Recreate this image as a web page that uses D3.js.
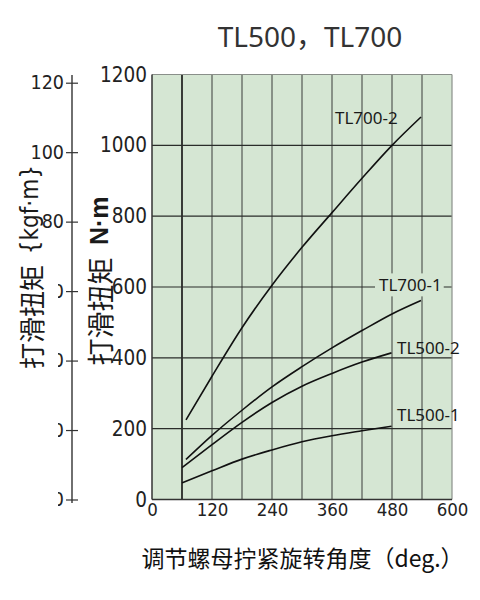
<!DOCTYPE html>
<html>
<head>
<meta charset="utf-8">
<script src="https://cdn.jsdelivr.net/npm/d3@7/dist/d3.min.js"></script>
<style>
  html, body { margin: 0; padding: 0; background: #fff; }
  svg { display: block; }
  .num { font-family: "Liberation Sans Narrow", "DejaVu Sans Condensed", "Liberation Sans", sans-serif; fill: #222; }
</style>
</head>
<body>
<svg id="chart" width="480" height="600"></svg>
<script>
// ---- data ----
const chartTitle = "TL500，TL700";
const xTitle = "调节螺母拧紧旋转角度（deg.）";
const yTitleNm = ["打滑扭矩", "N·m"];
const yTitleKgf = ["打滑扭矩", "{kgf·m}"];

const degTicks = [0, 120, 240, 360, 480, 600];
const degGrid = [60, 120, 180, 240, 300, 360, 420, 480, 540];
const nmTicks = [0, 200, 400, 600, 800, 1000, 1200];
const kgfTicks = [0, 20, 40, 60, 80, 100, 120];
const kgfVisible = [80, 100, 120];   // lower labels are cut off in the source

const seriesNames = ["TL700-2", "TL700-1", "TL500-2", "TL500-1"];
const tl700_2_deg = [68, 120, 180, 240, 300, 360, 420, 480, 538];
const tl700_2_nm  = [225, 348, 485, 605, 712, 810, 907, 1000, 1080];
const tl700_1_deg = [68, 120, 180, 240, 300, 360, 420, 480, 538];
const tl700_1_nm  = [113, 181, 252, 318, 375, 428, 477, 524, 562];
const tl500_2_deg = [60, 120, 180, 240, 300, 360, 420, 479];
const tl500_2_nm  = [90, 155, 218, 274, 320, 356, 388, 414];
const tl500_1_deg = [60, 120, 180, 240, 300, 360, 420, 479];
const tl500_1_nm  = [47, 81, 114, 140, 163, 180, 194, 207];

// label anchors in data units (deg, N·m)
const labelDeg = [366, 454, 490, 490];
const labelNm  = [1080, 606, 428, 239];

const NM_PER_KGF = 9.807;

// ---- layout ----
const svg = d3.select("#chart");
const plot = { left: 152, right: 452, top: 74.5, bottom: 499.5 };
const x = d3.scaleLinear().domain([0, 600]).range([plot.left, plot.right]);
const y = d3.scaleLinear().domain([0, 1200]).range([plot.bottom, plot.top]);
const yK = d3.scaleLinear().domain([0, 1200 / NM_PER_KGF]).range([plot.bottom, plot.top]);

// background
svg.append("rect")
  .attr("x", plot.left).attr("y", plot.top)
  .attr("width", plot.right - plot.left).attr("height", plot.bottom - plot.top)
  .attr("fill", "#d5e6d3");

// grid
const grid = svg.append("g");
grid.selectAll("line.v").data(degGrid).join("line")
  .attr("x1", d => x(d)).attr("x2", d => x(d))
  .attr("y1", plot.top).attr("y2", plot.bottom)
  .attr("stroke", d => d === 60 ? "#111" : "#3a3d3a")
  .attr("stroke-width", d => d === 60 ? 1.6 : 1);
grid.selectAll("line.h").data(nmTicks.filter(d => d > 0 && d < 1200)).join("line")
  .attr("x1", plot.left).attr("x2", plot.right)
  .attr("y1", d => y(d)).attr("y2", d => y(d))
  .attr("stroke", "#2a2d2a").attr("stroke-width", 1.2);

// border
svg.append("line").attr("x1", plot.left).attr("x2", plot.right).attr("y1", plot.top).attr("y2", plot.top)
  .attr("stroke", "#8a8f8a").attr("stroke-width", 1.2);
svg.append("line").attr("x1", plot.right).attr("x2", plot.right).attr("y1", plot.top).attr("y2", plot.bottom)
  .attr("stroke", "#8a8f8a").attr("stroke-width", 1.2);
svg.append("line").attr("x1", plot.left).attr("x2", plot.left).attr("y1", plot.top).attr("y2", plot.bottom)
  .attr("stroke", "#333").attr("stroke-width", 1.5);
svg.append("line").attr("x1", plot.left).attr("x2", plot.right).attr("y1", plot.bottom).attr("y2", plot.bottom)
  .attr("stroke", "#333").attr("stroke-width", 1.5);

// curves
const seriesDeg = [tl700_2_deg, tl700_1_deg, tl500_2_deg, tl500_1_deg];
const seriesNm = [tl700_2_nm, tl700_1_nm, tl500_2_nm, tl500_1_nm];
const line = d3.line().x(d => x(d[0])).y(d => y(d[1])).curve(d3.curveMonotoneX);
seriesNames.forEach((name, i) => {
  const pts = seriesDeg[i].map((d, j) => [d, seriesNm[i][j]]);
  svg.append("path").datum(pts).attr("d", line)
    .attr("fill", "none").attr("stroke", "#111").attr("stroke-width", 1.6);
});

// curve labels
seriesNames.forEach((name, i) => {
  const g = svg.append("g");
  const t = g.append("text")
    .attr("x", x(labelDeg[i])).attr("y", y(labelNm[i]))
    .attr("dominant-baseline", "central")
    .attr("font-family", "'Noto Sans', 'DejaVu Sans', sans-serif")
    .attr("font-size", 17).attr("fill", "#1a1a1a")
    .text(name);
  if (name === "TL700-1") {
    const b = t.node().getBBox();
    g.insert("rect", "text").attr("x", b.x - 4).attr("y", b.y)
      .attr("width", Math.min(b.width + 6, plot.right - b.x + 3)).attr("height", b.height)
      .attr("fill", "#d5e6d3");
  }
});

// N·m axis labels
const yAxis = svg.append("g").attr("transform", `translate(${plot.left},0)`)
  .call(d3.axisLeft(y).tickValues(nmTicks).tickFormat(d3.format("d")).tickSize(0).tickPadding(5));
yAxis.select(".domain").remove();
yAxis.selectAll("text").attr("class", "num").attr("font-size", 20.5);

// deg axis labels
const xAxis = svg.append("g").attr("transform", `translate(0,${plot.bottom})`)
  .call(d3.axisBottom(x).tickValues(degTicks).tickFormat(d3.format("d")).tickSize(0).tickPadding(3));
xAxis.select(".domain").remove();
xAxis.selectAll("text").attr("class", "num").attr("font-size", 18.5);

// kgf·m axis
const kx = 72;
const defs = svg.append("defs");
svg.append("line").attr("x1", kx).attr("x2", kx).attr("y1", 75).attr("y2", 503)
  .attr("stroke", "#333").attr("stroke-width", 1.4);
const kAxis = svg.append("g").attr("transform", `translate(${kx + 6},0)`)
  .call(d3.axisLeft(yK).tickValues(kgfTicks).tickFormat(d3.format("d")).tickSize(12).tickPadding(2));
kAxis.select(".domain").remove();
kAxis.selectAll(".tick line").attr("stroke", "#333").attr("stroke-width", 1.2);
kAxis.selectAll("text").attr("class", "num").attr("font-size", 19.5);
// clip in axis-local coordinates: only the right edge of the lower labels shows
defs.append("clipPath").attr("id", "kclipLocal")
  .append("rect").attr("x", 58 - (kx + 6)).attr("y", -20).attr("width", 40).attr("height", 40);
kAxis.selectAll(".tick").filter(d => !kgfVisible.includes(d)).select("text")
  .attr("clip-path", "url(#kclipLocal)");

// axis titles
function rotTitle(cx, cy, parts, sizes, fams, weights) {
  const t = svg.append("text")
    .attr("transform", `translate(${cx},${cy}) rotate(-90)`)
    .attr("text-anchor", "middle").attr("dominant-baseline", "central")
    .attr("fill", "#1a1a1a");
  parts.forEach((p, i) => {
    t.append("tspan").attr("font-size", sizes[i]).attr("font-family", fams[i])
      .attr("font-weight", weights[i]).text((i > 0 ? "\u2002" : "") + p);
  });
}
rotTitle(30, 267, yTitleKgf, [26, 24],
  ["'Noto Sans CJK SC', sans-serif", "'Liberation Sans Narrow', 'DejaVu Sans Condensed', sans-serif"], [400, 400]);
rotTitle(99, 281, yTitleNm, [27, 25],
  ["'Noto Sans CJK SC', sans-serif", "'Liberation Sans', 'DejaVu Sans', sans-serif"], [400, 700]);

svg.append("text").attr("x", 302.5).attr("y", 557)
  .attr("text-anchor", "middle").attr("dominant-baseline", "central")
  .attr("font-family", "'Noto Sans CJK SC', sans-serif").attr("font-size", 23)
  .attr("fill", "#111").text(xTitle);

svg.append("text").attr("x", 310).attr("y", 36)
  .attr("text-anchor", "middle").attr("dominant-baseline", "central")
  .attr("font-family", "'Noto Sans', 'Noto Sans CJK SC', sans-serif").attr("font-size", 28)
  .attr("fill", "#333").text(chartTitle);
</script>
</body>
</html>
